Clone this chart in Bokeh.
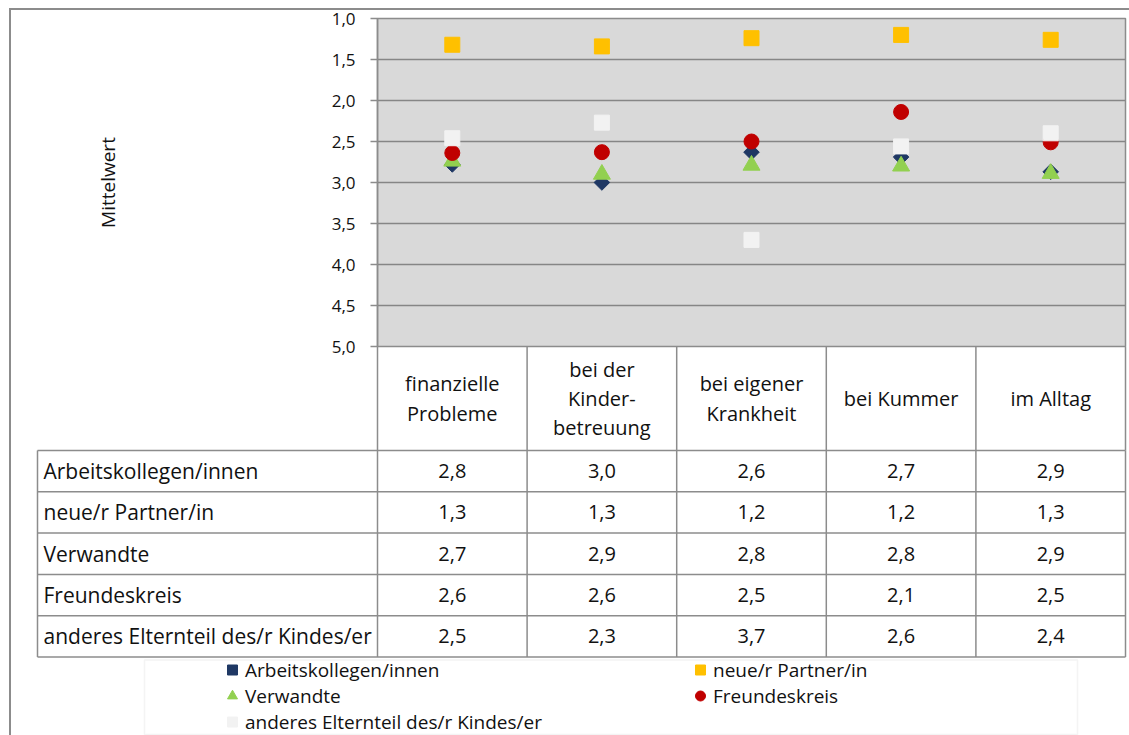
import math
from bokeh.plotting import figure
from bokeh.models import (Range1d, FixedTicker, Legend, LegendItem, BoxAnnotation, Div)
from bokeh.embed import file_html
from bokeh.resources import INLINE
from bokeh.core.properties import value

# ---------------- data ----------------
categories = ["finanzielle\nProbleme", "bei der\nKinder-\nbetreuung",
              "bei eigener\nKrankheit", "bei Kummer", "im Alltag"]
series_names = ["Arbeitskollegen/innen", "neue/r Partner/in", "Verwandte",
                "Freundeskreis", "anderes Elternteil des/r Kindes/er"]
arbeitskollegen = [2.78, 3.00, 2.63, 2.69, 2.87]
partner = [1.32, 1.34, 1.24, 1.20, 1.26]
verwandte = [2.74, 2.90, 2.79, 2.80, 2.89]
freundeskreis = [2.64, 2.63, 2.50, 2.14, 2.51]
anderes_elternteil = [2.46, 2.27, 3.70, 2.56, 2.40]
y_ticks = [1.0, 1.5, 2.0, 2.5, 3.0, 3.5, 4.0, 4.5, 5.0]
y_axis_title = "Mittelwert"

series_values = [arbeitskollegen, partner, verwandte, freundeskreis, anderes_elternteil]
markers = ["square", "square", "triangle", "circle", "square"]
angles = [math.pi / 4, 0, 0, 0, 0]
colors = ["#1F3864", "#FFC000", "#92D050", "#C00000", "#F2F2F2"]
sizes = [11, 15, 17, 15, 15]


def fmt(v):
    return f"{v:.1f}".replace(".", ",")


FONT_NAME = "Open Sans"
GRID = "#868686"
LINE = "#8C8C8C"
TXT = "#111111"

# ---------------- geometry (page px) ----------------
W = 1129
TOTAL_H = 735
FRAME_L = 377
FRAME_R = 1125
TOP = 18
CHART_BOTTOM = 346
OVERLAP = 12
HEADER_PX = 104
ROW_PX = 41.3
TABLE_L = 37

ncat = len(categories)
xs = list(range(1, ncat + 1))
cat_px = (FRAME_R - FRAME_L) / ncat
y_min, y_max = y_ticks[0], y_ticks[-1]

# ---------------- chart ----------------
H1 = CHART_BOTTOM + OVERLAP
p = figure(width=W, height=H1, x_range=Range1d(0.5, ncat + 0.5),
           y_range=Range1d(y_max, y_min), output_backend="svg",
           toolbar_location=None, x_axis_location=None,
           min_border_left=FRAME_L, min_border_right=W - FRAME_R,
           min_border_top=TOP, min_border_bottom=OVERLAP,
           background_fill_color="#D9D9D9", border_fill_color="white",
           outline_line_color=LINE, outline_line_width=1.5)

p.xgrid.visible = False
p.ygrid.ticker = FixedTicker(ticks=y_ticks)
p.ygrid.grid_line_color = GRID
p.ygrid.grid_line_width = 1.5

ax = p.yaxis[0]
ax.ticker = FixedTicker(ticks=y_ticks)
ax.major_label_overrides = {t: fmt(t) for t in y_ticks}
ax.major_label_text_font = FONT_NAME
ax.major_label_text_font_size = "17px"
ax.major_label_text_color = TXT
ax.axis_line_color = LINE
ax.axis_line_width = 1.5
ax.major_tick_line_color = LINE
ax.major_tick_line_width = 1.5
ax.major_tick_out = 7
ax.major_tick_in = 0
ax.minor_tick_out = 0
ax.minor_tick_in = 0
ax.major_label_standoff = 15
ax.axis_label = y_axis_title
ax.axis_label_standoff = 208
ax.axis_label_text_font = FONT_NAME
ax.axis_label_text_font_size = "19px"
ax.axis_label_text_font_style = "normal"
ax.axis_label_text_color = TXT

for vals, m, a, c, s in zip(series_values, markers, angles, colors, sizes):
    p.scatter(x=xs, y=vals, marker=m, angle=a, size=s, fill_color=c, line_color=c)

# ---------------- header + table body + legend ----------------
PT2 = CHART_BOTTOM               # page y of the top of the second canvas
H2 = TOTAL_H - PT2
n_rows = len(series_names)
F2_L = TABLE_L - 3
x_table = 0.5 - (FRAME_L - TABLE_L) / cat_px
x_start = x_table - (TABLE_L - F2_L) / cat_px
x_end = ncat + 0.5 + (W - FRAME_R) / cat_px
hdr = HEADER_PX / ROW_PX
y_bottom = H2 / ROW_PX

p2 = figure(width=W, height=H2, x_range=Range1d(x_start, x_end),
            y_range=Range1d(y_bottom, 0), output_backend="svg",
            toolbar_location=None, x_axis_location=None, y_axis_location=None,
            min_border_left=F2_L, min_border_right=0, min_border_top=0, min_border_bottom=0,
            background_fill_alpha=0, border_fill_alpha=0,
            outline_line_color=None, styles={"margin-top": f"-{OVERLAP}px"})
for g in p2.grid:
    g.visible = False


def cx(page_x):
    return x_start + (page_x - F2_L) / cat_px


def cy(page_y):
    return (page_y - PT2) / ROW_PX


# header cells
hb = [i + 0.5 for i in range(0, ncat + 1)]
p2.segment(x0=hb, x1=hb, y0=[0] * len(hb), y1=[hdr] * len(hb),
           line_color=LINE, line_width=1.5)
p2.text(x=xs, y=[hdr / 2] * ncat, text=categories,
        text_font=value(FONT_NAME), text_font_size="20px", text_align="center",
        text_baseline="middle", text_color=TXT, text_line_height=1.08)

# legend frame
p2.add_layout(BoxAnnotation(left=cx(144), right=cx(1077), top=cy(659.5),
                            bottom=cy(734), fill_color="white", fill_alpha=1.0,
                            line_color="#D9D9D9", line_width=1.5, level="underlay"))

# table grid
rows = [hdr + i for i in range(n_rows + 1)]
p2.segment(x0=[x_table] * len(rows), x1=[ncat + 0.5] * len(rows), y0=rows, y1=rows,
           line_color=LINE, line_width=1.5)
vbounds = [x_table] + hb
p2.segment(x0=vbounds, x1=vbounds, y0=[hdr] * len(vbounds), y1=[hdr + n_rows] * len(vbounds),
           line_color=LINE, line_width=1.5)

p2.text(x=[x_table + 6 / cat_px] * n_rows, y=[hdr + i + 0.5 for i in range(n_rows)],
        text=series_names, text_font=value(FONT_NAME), text_font_size="21px",
        text_align="left", text_baseline="middle", text_color=TXT)

tx, ty, tt = [], [], []
for i, vals in enumerate(series_values):
    for j, v in enumerate(vals):
        tx.append(xs[j])
        ty.append(hdr + i + 0.5)
        tt.append(fmt(v))
p2.text(x=tx, y=ty, text=tt, text_font=value(FONT_NAME), text_font_size="20px",
        text_align="center", text_baseline="middle", text_color=TXT)

# legend proxies: same series, drawn on a y-range that lies outside the visible frame
p2.extra_y_ranges = {"hidden": Range1d(-20, -10)}
items = []
for name, vals, m, a, c, s in zip(series_names, series_values, markers, angles, colors, sizes):
    r = p2.scatter(x=xs, y=vals, y_range_name="hidden", marker=m, angle=a, size=s,
                   fill_color=c, line_color=c)
    items.append(LegendItem(label=name, renderers=[r]))

legend_kw = dict(items=items, location=(219 - F2_L, 0.5), orientation="horizontal",
                 glyph_width=26, glyph_height=25, label_height=25, label_width=442,
                 label_standoff=0, spacing=0, padding=0, margin=0,
                 border_line_alpha=0, background_fill_alpha=0,
                 label_text_font=FONT_NAME, label_text_font_size="19px",
                 label_text_color=TXT)
if "ncols" in Legend.properties():
    legend_kw["ncols"] = 2
legend = Legend(**legend_kw)
p2.add_layout(legend)

# outer chart border (left and top edges)
frame_div = Div(text="", width=1122, height=729,
                styles={"position": "absolute", "left": "4px", "top": "3px",
                        "border-left": "2px solid #8C8C8C", "border-top": "2px solid #8C8C8C",
                        "pointer-events": "none", "background": "transparent"})

open("out.html", "w").write(file_html([p, p2, frame_div], INLINE))
